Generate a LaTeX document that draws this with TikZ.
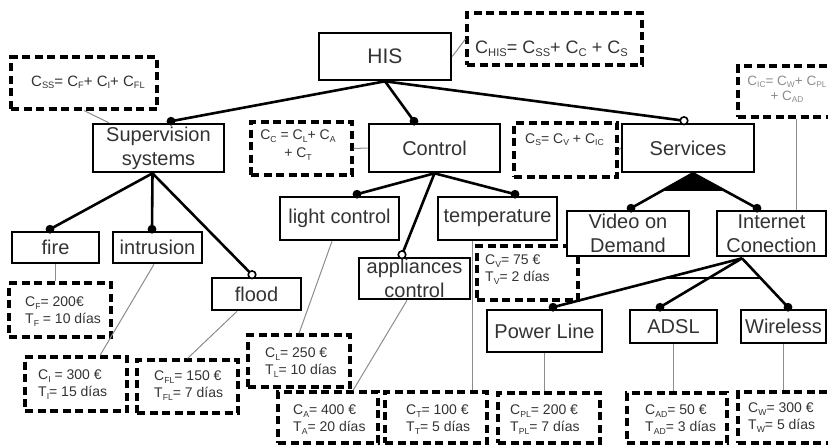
\documentclass[tikz,border=0pt]{standalone}
\usepackage{fontspec}
\setmainfont{Liberation Sans}
\usetikzlibrary{calc}
\newcommand\sbx[1]{\raisebox{-0.35ex}{\scalebox{0.62}{#1}}}
\begin{document}
\begin{tikzpicture}[x=1pt,y=-1pt,
  box/.style={draw=black, line width=2.6pt, fill=white, inner sep=0pt, font=\fontsize{20}{24}\selectfont, text=black!80, align=center},
  note/.style={draw=black, line width=3.1pt, dash pattern=on 8pt off 4.5pt, inner sep=0pt},
  ntxt/.style={inner sep=0pt, font=\fontsize{14}{16.5}\selectfont, text=black!80, align=left, anchor=north west},
  edge/.style={line width=2.6pt, draw=black},
  link/.style={line width=1pt, draw=black!45},
  dot/.style={fill=black},
  odot/.style={fill=white, draw=black, line width=1.6pt}]
\useasboundingbox (0,0) rectangle (828,445);

% ---------- notes (dashed frames) ----------
\node[note, minimum width=175pt, minimum height=52pt] (nHIS) at (554.5,39) {};
\node[note, minimum width=146pt, minimum height=52pt] (nSS) at (84,83) {};
\node[note, minimum width=101pt, minimum height=53pt] (nC) at (301.5,148.5) {};
\node[note, minimum width=103pt, minimum height=54pt] (nS) at (565.5,150) {};
\node[note, minimum width=94pt, minimum height=51pt] (nIC) at (785,91.5) {};
\node[note, minimum width=102pt, minimum height=54pt] (nF) at (60,310) {};
\node[note, minimum width=102pt, minimum height=54pt] (nI) at (76,384) {};
\node[note, minimum width=101pt, minimum height=53pt] (nFL) at (187.5,386.5) {};
\node[note, minimum width=102pt, minimum height=52pt] (nL) at (299,361) {};
\node[note, minimum width=100pt, minimum height=51pt] (nA) at (328,417.5) {};
\node[note, minimum width=102pt, minimum height=51pt] (nT) at (436,417.5) {};
\node[note, minimum width=101pt, minimum height=54pt] (nV) at (527.5,273) {};
\node[note, minimum width=102pt, minimum height=50pt] (nPL) at (549,418) {};
\node[note, minimum width=100pt, minimum height=50pt] (nAD) at (677,418) {};
\node[note, minimum width=94pt, minimum height=51pt] (nW) at (785,417.5) {};

% ---------- note texts ----------
\node[ntxt, anchor=base west, font=\fontsize{18}{20}\selectfont] (tHIS) at (475,53) {C\sbx{HIS}= C\sbx{SS}+ C\sbx{C} + C\sbx{S}};
\node[ntxt, anchor=base west, font=\fontsize{15}{18}\selectfont] (tSS) at (31,86) {C\sbx{SS}= C\sbx{F}+ C\sbx{I}+ C\sbx{FL}};
\node[ntxt, align=center, anchor=north, font=\fontsize{14}{18}\selectfont] (tC) at (298,130) {C\sbx{C} = C\sbx{L}+ C\sbx{A}\\+ C\sbx{T}};
\node[ntxt, anchor=base west] (tS) at (525,143) {C\sbx{S}= C\sbx{V} + C\sbx{IC}};
\node[ntxt, align=center, anchor=north, text=black!45, font=\fontsize{13.5}{15}\selectfont] (tIC) at (787,75.5) {C\sbx{IC}= C\sbx{W}+ C\sbx{PL}\\+ C\sbx{AD}};
\node[ntxt] (tF) at (25,297) {C\sbx{F}= 200€\\T\sbx{F} = 10 días};
\node[ntxt] (tI) at (38,370) {C\sbx{I} = 300 €\\T\sbx{I}= 15 días};
\node[ntxt] (tFL) at (154,371) {C\sbx{FL}= 150 €\\T\sbx{FL}= 7 días};
\node[ntxt] (tL) at (265,348) {C\sbx{L}= 250 €\\T\sbx{L}= 10 días};
\node[ntxt] (tA) at (293,405) {C\sbx{A}= 400 €\\T\sbx{A}= 20 días};
\node[ntxt] (tT) at (406,405) {C\sbx{T}= 100 €\\T\sbx{T}= 5 días};
\node[ntxt] (tV) at (485,255) {C\sbx{V}= 75 €\\T\sbx{V}= 2 días};
\node[ntxt] (tPL) at (510,405) {C\sbx{PL}= 200 €\\T\sbx{PL}= 7 días};
\node[ntxt] (tAD) at (645,405) {C\sbx{AD}= 50 €\\T\sbx{AD}= 3 días};
\node[ntxt] (tW) at (748,403) {C\sbx{W}= 300 €\\T\sbx{W}= 5 días};

% ---------- feature boxes ----------
\node[box, minimum width=132pt, minimum height=47pt, font=\fontsize{21}{24}\selectfont] (his) at (385,56.5) {HIS};
\node[box, minimum width=131pt, minimum height=48pt] (sup) at (158.5,148) {Supervision\\systems};
\node[box, minimum width=131pt, minimum height=48pt] (ctl) at (434.5,148) {Control};
\node[box, minimum width=132pt, minimum height=48pt] (srv) at (688,148) {Services};
\node[box, minimum width=122pt, minimum height=45pt] (vod) at (628,233.5) {Video on\\Demand};
\node[box, minimum width=109pt, minimum height=45pt] (ic) at (771.5,233.5) {Internet\\Conection};
\node[box, minimum width=119pt, minimum height=43pt] (light) at (339.5,218.5) {light control};
\node[box, minimum width=119pt, minimum height=43pt] (temp) at (497.5,218.5) {temperature};
\node[box, minimum width=111pt, minimum height=41pt] (app) at (414.5,278.5) {appliances\\control};
\node[box, minimum width=87pt, minimum height=31pt] (fire) at (55.5,247.5) {fire};
\node[box, minimum width=89pt, minimum height=31pt] (intr) at (157.5,247.5) {intrusion};
\node[box, minimum width=89pt, minimum height=32pt] (flood) at (256.5,294) {flood};
\node[box, minimum width=115pt, minimum height=42pt] (pl) at (544.5,331) {Power Line};
\node[box, minimum width=87pt, minimum height=33pt] (adsl) at (673.5,326.5) {ADSL};
\node[box, minimum width=85pt, minimum height=33pt] (wl) at (783.5,326.5) {Wireless};

% ---------- thin links from notes ----------
\draw[link] (his.east) -- (nHIS.west);
\draw[link] (nSS.south) -- ($(sup.north west)+(17,0)$);
\draw[link] (nC.east) -- (ctl.west);
\draw[link] (nS.east) -- (srv.west);
\coordinate (icl) at ($(nIC.south west)+(60,0)$);
\draw[link] (icl) -- (icl |- ic.north);
\draw[link] (fire.south) -- (fire.south |- nF.north);
\draw[link] ($(intr.south)+(-3.5,0)$) -- ($(nI.north)+(24,0)$);
\draw[link] ($(flood.south)+(-19.5,0)$) -- (nFL.north);
\draw[link] ($(light.south)+(-7.5,0)$) -- (nL.north);
\draw[link] ($(app.south)+(-7.5,0)$) -- ($(nA.north)+(25,0)$);
\coordinate (tl) at ($(temp.south)+(-25.5,0)$);
\draw[link] (tl) -- (tl |- nT.north);
\draw[link] (pl.south) -- (pl.south |- nPL.north);
\draw[link] (adsl.south) -- (adsl.south |- nAD.north);
\draw[link] (wl.south) -- (wl.south |- nW.north);

% ---------- attachment points ----------
\coordinate (dsup) at ($(sup.north)+(12.5,-1.5)$);
\coordinate (dctl) at ($(ctl.north)+(-20.5,-1.5)$);
\coordinate (dsrv) at ($(srv.north)+(-4,-2)$);
\coordinate (dfire) at ($(fire.north)+(-5.5,-1.5)$);
\coordinate (dintr) at ($(intr.north)+(-5.5,-1.5)$);
\coordinate (dflood) at ($(flood.north)+(-4.5,-2)$);
\coordinate (dlight) at ($(light.north)+(17.5,-1.5)$);
\coordinate (dapp) at ($(app.north)+(-12.5,-2)$);
\coordinate (dtemp) at ($(temp.north)+(17.5,-1.5)$);
\coordinate (dvod) at ($(vod.north)+(3,-1.5)$);
\coordinate (dic) at ($(ic.north)+(-14.5,-1.5)$);
\coordinate (dpl) at ($(pl.north)+(8.5,-1.5)$);
\coordinate (dadsl) at ($(adsl.north)+(-13.5,-1.5)$);
\coordinate (dwl) at ($(wl.north)+(4.5,-1.5)$);
\coordinate (ssrc) at ($(sup.south)+(-6,0)$);
\coordinate (vsrc) at ($(srv.south)+(5,0)$);
\coordinate (isrc) at ($(ic.south)+(-29.5,1)$);

% ---------- tree edges ----------
\draw[edge] (his.south) -- (dsup);
\draw[edge] (his.south) -- (dctl);
\draw[edge] (his.south) -- (dsrv);
\draw[edge] (ssrc) -- (dfire);
\draw[edge] (ssrc) -- (dintr);
\draw[edge] (ssrc) -- (dflood);
\draw[edge] (ctl.south) -- (dlight);
\draw[edge] (ctl.south) -- (dapp);
\draw[edge] (ctl.south) -- (dtemp);
\draw[edge] (vsrc) -- (dvod);
\draw[edge] (vsrc) -- (dic);
\fill[black] (vsrc) -- ($(vsrc)!0.5!(dvod)$) -- ($(vsrc)!0.5!(dic)$) -- cycle;
\draw[edge] (isrc) -- (dpl);
\draw[edge] (isrc) -- (dadsl);
\draw[edge] (isrc) -- (dwl);
\draw[line width=1.3pt] ($(isrc)!0.4!(dpl)$) -- ($(isrc)!0.4!(dwl)$);

% ---------- dots ----------
\foreach \d in {dsup,dctl,dfire,dintr,dlight,dtemp,dvod,dic,dpl,dadsl,dwl}
  \fill[dot] (\d) circle (4.4pt);
\foreach \d in {dsrv,dflood,dapp}
  \filldraw[odot] (\d) circle (3.8pt);
\end{tikzpicture}
\end{document}
